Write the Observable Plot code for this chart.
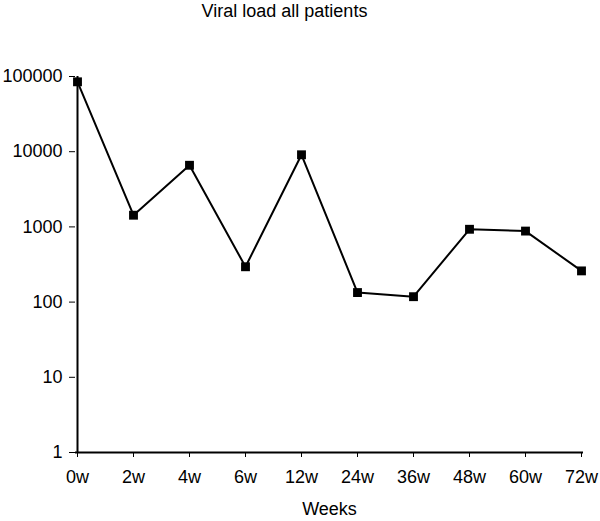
<!DOCTYPE html>
<html>
<head>
<meta charset="utf-8">
<script src="https://cdn.jsdelivr.net/npm/d3@7"></script>
<script src="https://cdn.jsdelivr.net/npm/@observablehq/plot@0.6"></script>
<style>
  html, body { margin: 0; padding: 0; background: #fff; }
  #wrap { position: relative; width: 600px; height: 521px; font-family: "Liberation Sans", Arial, sans-serif; }
  #title { position: absolute; top: 0px; left: 0; width: 569px; text-align: center; font-size: 18px; color: #000; line-height: 22px; }
</style>
</head>
<body>
<div id="wrap">
  <div id="title">Viral load all patients</div>
</div>
<script>
const weeks = ["0w", "2w", "4w", "6w", "12w", "24w", "36w", "48w", "60w", "72w"];
const viralLoad = [85000, 1430, 6600, 295, 9100, 134, 118, 930, 880, 260];
const yTicks = [1, 10, 100, 1000, 10000, 100000];

const data = weeks.map((w, i) => ({week: w, load: viralLoad[i]}));

const chart = Plot.plot({
  width: 600,
  height: 521,
  marginTop: 76,
  marginBottom: 69,
  marginLeft: 75,
  marginRight: 17,
  style: {fontFamily: "'Liberation Sans', Arial, sans-serif", fontSize: "18px", color: "#000", background: "#fff"},
  x: {type: "point", domain: weeks, padding: 0, label: "Weeks", labelAnchor: "center", labelOffset: 62, tickSize: 5, tickPadding: 13},
  y: {type: "log", domain: [1, 100000], ticks: yTicks, tickFormat: d => String(d), label: null, tickSize: 6, tickPadding: 7},
  marks: [
    Plot.ruleY([1], {stroke: "#000", strokeWidth: 2}),
    Plot.ruleX([weeks[0]], {stroke: "#000", strokeWidth: 2}),
    Plot.line(data, {x: "week", y: "load", stroke: "#000", strokeWidth: 2}),
    Plot.dot(data, {x: "week", y: "load", symbol: "square", r: 5, fill: "#000", stroke: "none"})
  ]
});
chart.style.position = "absolute";
chart.style.top = "0";
chart.style.left = "0";
const wrap = document.getElementById("wrap");
wrap.insertBefore(chart, wrap.firstChild);
</script>
</body>
</html>
